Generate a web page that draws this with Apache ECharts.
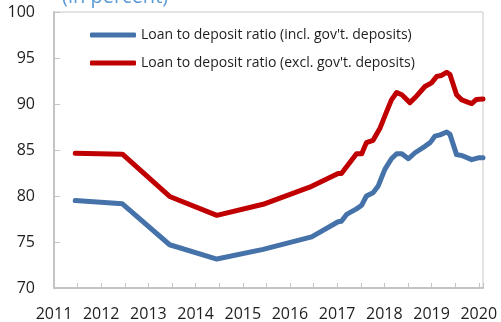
<!DOCTYPE html>
<html>
<head>
<meta charset="utf-8">
<script src="https://cdn.jsdelivr.net/npm/echarts@6/dist/echarts.min.js"></script>
<style>
  html, body { margin: 0; padding: 0; background: #ffffff; }
  #chart { width: 501px; height: 322px; }
</style>
</head>
<body>
<div id="chart"></div>
<script>
// Dates are decimal years; annual observations to mid-2016, roughly monthly afterwards.
const inclDates = [2011.45, 2012.45, 2013.45, 2014.45, 2015.43, 2016.46, 2017.02, 2017.09, 2017.2, 2017.41,
  2017.52, 2017.62, 2017.76, 2017.87, 2018.01, 2018.15, 2018.26, 2018.37, 2018.51, 2018.65,
  2018.86, 2018.97, 2019.07, 2019.18, 2019.32, 2019.39, 2019.53, 2019.64, 2019.85, 2019.99, 2020.09];
const inclValues = [79.5, 79.15, 74.7, 73.15, 74.2, 75.55, 77.2, 77.25, 78.0, 78.6,
  79.0, 80.0, 80.35, 81.1, 82.9, 84.05, 84.6, 84.6, 84.05, 84.7,
  85.4, 85.8, 86.5, 86.65, 86.95, 86.7, 84.5, 84.4, 83.95, 84.15, 84.15];

const exclDates = [2011.45, 2012.45, 2013.45, 2014.45, 2015.43, 2016.46, 2017.02, 2017.09, 2017.41, 2017.52,
  2017.62, 2017.76, 2017.91, 2018.05, 2018.15, 2018.26, 2018.37, 2018.54, 2018.68, 2018.86,
  2019.0, 2019.11, 2019.21, 2019.32, 2019.39, 2019.53, 2019.64, 2019.85, 2019.95, 2020.09];
const exclValues = [84.65, 84.55, 79.95, 77.9, 79.1, 81.05, 82.45, 82.45, 84.6, 84.6,
  85.8, 86.05, 87.4, 89.2, 90.45, 91.25, 91.0, 90.15, 90.85, 91.9,
  92.3, 93.0, 93.1, 93.45, 93.2, 91.0, 90.45, 90.05, 90.5, 90.55];

const seriesNames = [
  "Loan to deposit ratio (incl. gov't. deposits)",
  "Loan to deposit ratio (excl. gov't. deposits)"
];
const subtitle = "(in percent)";

const pairs = (xs, ys) => xs.map((x, i) => [x, ys[i]]);
const FONT = "'Open Sans', sans-serif";
const AXIS_GREY = '#c4c4c4';

const chart = echarts.init(document.getElementById('chart'), null, { renderer: 'canvas' });

chart.setOption({
  animation: false,
  backgroundColor: '#ffffff',
  graphic: [{
    type: 'text',
    left: 62,
    top: -13,
    style: {
      text: subtitle,
      font: "20px 'Open Sans', sans-serif",
      fill: '#5b9bd5'
    }
  }],
  grid: {
    left: 54, right: 18, top: 12, bottom: 33,
    show: true, borderColor: '#c8c8c8', borderWidth: 1, backgroundColor: 'transparent'
  },
  legend: {
    orient: 'vertical',
    left: 85, top: 21,
    itemWidth: 46, itemHeight: 5,
    itemGap: 10,
    icon: 'roundRect',
    textStyle: { fontFamily: FONT, fontSize: 14, color: '#1e1e1e', lineHeight: 18 },
    data: seriesNames
  },
  xAxis: {
    type: 'value',
    min: 2011, max: 2020.09, interval: 0.5,
    axisLine: { lineStyle: { color: AXIS_GREY, width: 2 } },
    axisTick: { inside: true, length: 5, lineStyle: { color: AXIS_GREY, width: 1 } },
    splitLine: { show: false },
    axisLabel: {
      fontFamily: FONT, fontSize: 16, color: '#1e1e1e', margin: 18,
      formatter: v => (Math.abs(v - Math.round(v)) < 1e-6 ? String(Math.round(v)) : '')
    }
  },
  yAxis: {
    type: 'value',
    min: 70, max: 100, interval: 5,
    axisLine: { show: true, lineStyle: { color: AXIS_GREY, width: 2 } },
    axisTick: { show: true, inside: true, length: 6, lineStyle: { color: AXIS_GREY, width: 1 } },
    splitLine: { show: false },
    axisLabel: { fontFamily: FONT, fontSize: 16, color: '#1e1e1e', margin: 19 }
  },
  series: [
    {
      name: seriesNames[0], type: 'line', data: pairs(inclDates, inclValues),
      showSymbol: false, symbol: 'none', color: '#4672aa',
      lineStyle: { width: 5, color: '#4672aa', cap: 'round', join: 'round' }
    },
    {
      name: seriesNames[1], type: 'line', data: pairs(exclDates, exclValues),
      showSymbol: false, symbol: 'none', color: '#c00000',
      lineStyle: { width: 5, color: '#c00000', cap: 'round', join: 'round' }
    }
  ]
});
</script>
</body>
</html>
